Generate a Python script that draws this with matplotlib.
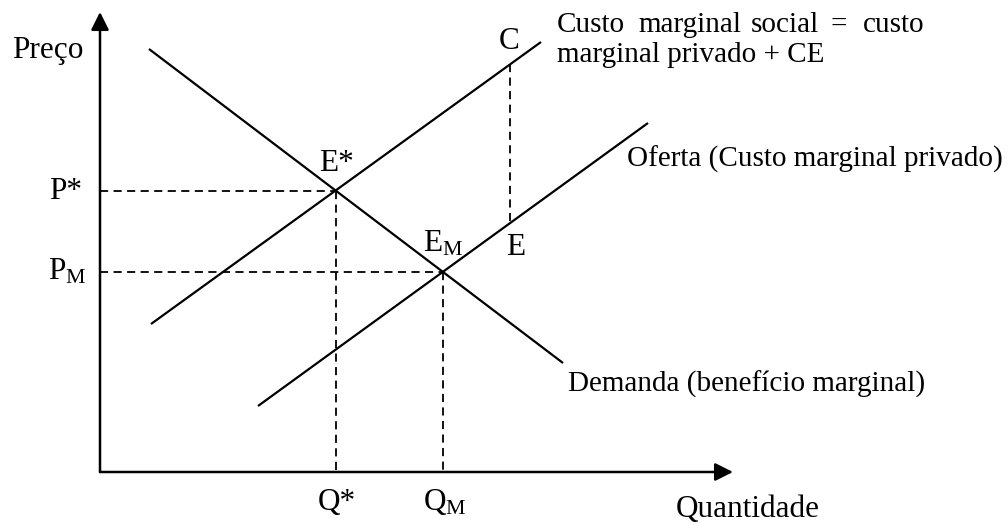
import numpy as np
import matplotlib.pyplot as plt

# curves as end points (quantity, price), origin at the axes corner
demand_q = [49, 463]
demand_p = [423, 109]
social_q = [51, 441]
social_p = [148, 430]
supply_q = [158, 548]
supply_p = [66, 349]
q_c = 410           # where the external cost gap is marked
q_max = 633         # tip of the quantity arrow
p_max = 460         # tip of the price arrow

# first line of the social cost label is justified in the original
title_words = ['Custo', 'marginal', 'social', '=', 'custo']
title_x = [457, 538, 651, 731, 763]

plt.rcParams['font.family'] = ['Liberation Serif', 'DejaVu Serif']
plt.rcParams['mathtext.fontset'] = 'custom'
plt.rcParams['mathtext.rm'] = 'Liberation Serif'
plt.rcParams['mathtext.it'] = 'Liberation Serif'


def line_coef(qs, ps):
    a = (ps[1] - ps[0]) / (qs[1] - qs[0])
    return a, ps[0] - a * qs[0]


def crossing(l1, l2):
    a1, b1 = line_coef(*l1)
    a2, b2 = line_coef(*l2)
    q = (b2 - b1) / (a1 - a2)
    return q, a1 * q + b1


def value_at(l, q):
    a, b = line_coef(*l)
    return a * q + b


demand = (demand_q, demand_p)
social = (social_q, social_p)
supply = (supply_q, supply_p)

q_star, p_star = crossing(demand, social)
q_m, p_m = crossing(demand, supply)
p_c = value_at(social, q_c)
p_e = value_at(supply, q_c)

fig = plt.figure(figsize=(10.08, 5.24), dpi=100)
ax = fig.add_axes([0, 0, 1, 1])
ax.set_xlim(-100, 908)
ax.set_ylim(-52, 472)
ax.axis('off')

# axes with arrow heads
arrow = dict(arrowstyle='-|>', color='black', lw=1.8, mutation_scale=27,
             shrinkA=0, shrinkB=0)
ax.annotate('', xy=(0, p_max), xytext=(0, 0), arrowprops=arrow)
ax.annotate('', xy=(q_max, 0), xytext=(0, 0), arrowprops=arrow)

# curves
for qs, ps in (demand, social, supply):
    ax.plot(qs, ps, color='black', lw=1.6, solid_capstyle='butt')

dash = dict(color='black', lw=1.3, linestyle=(0, (4.5, 3)))
ax.plot([0, q_star], [p_star, p_star], **dash)
ax.plot([q_star, q_star], [p_star, 0], **dash)
ax.plot([0, q_m], [p_m, p_m], **dash)
ax.plot([q_m, q_m], [p_m, 0], **dash)
ax.plot([q_c, q_c], [p_c, p_e], **dash)

fs = 21
big = 22.5
# labels, positions in the same coordinates (q, p)
ax.text(-88, 472 - 58, 'Preço', fontsize=big, ha='left', va='baseline')
ax.text(-18, 472 - 199, 'P*', fontsize=big, ha='right', va='baseline')
ax.text(-14, 472 - 280, r'P$_{\mathrm{M}}$', fontsize=big, ha='right', va='baseline')
ax.text(219, 472 - 171, 'E*', fontsize=big, ha='left', va='baseline')
ax.text(323, 472 - 252, r'E$_{\mathrm{M}}$', fontsize=big, ha='left', va='baseline')
ax.text(406, 472 - 255, 'E', fontsize=big, ha='left', va='baseline')
ax.text(399, 472 - 49, 'C', fontsize=big, ha='left', va='baseline')
ax.text(218, 472 - 510, 'Q*', fontsize=big, ha='left', va='baseline')
ax.text(323, 472 - 510, r'Q$_{\mathrm{M}}$', fontsize=big, ha='left', va='baseline')
ax.text(576, 472 - 517, 'Quantidade', fontsize=big, ha='left', va='baseline')
ax.text(468, 472 - 392, 'Demanda (benefício marginal)', fontsize=fs,
        ha='left', va='baseline')
ax.text(527, 472 - 167, 'Oferta (Custo marginal privado)', fontsize=fs,
        ha='left', va='baseline')
for word, x in zip(title_words, title_x):
    ax.text(x, 472 - 32, word, fontsize=fs, ha='left', va='baseline')
ax.text(457, 472 - 62, 'marginal privado + CE', fontsize=fs,
        ha='left', va='baseline')

plt.savefig('out.png', dpi=100)
